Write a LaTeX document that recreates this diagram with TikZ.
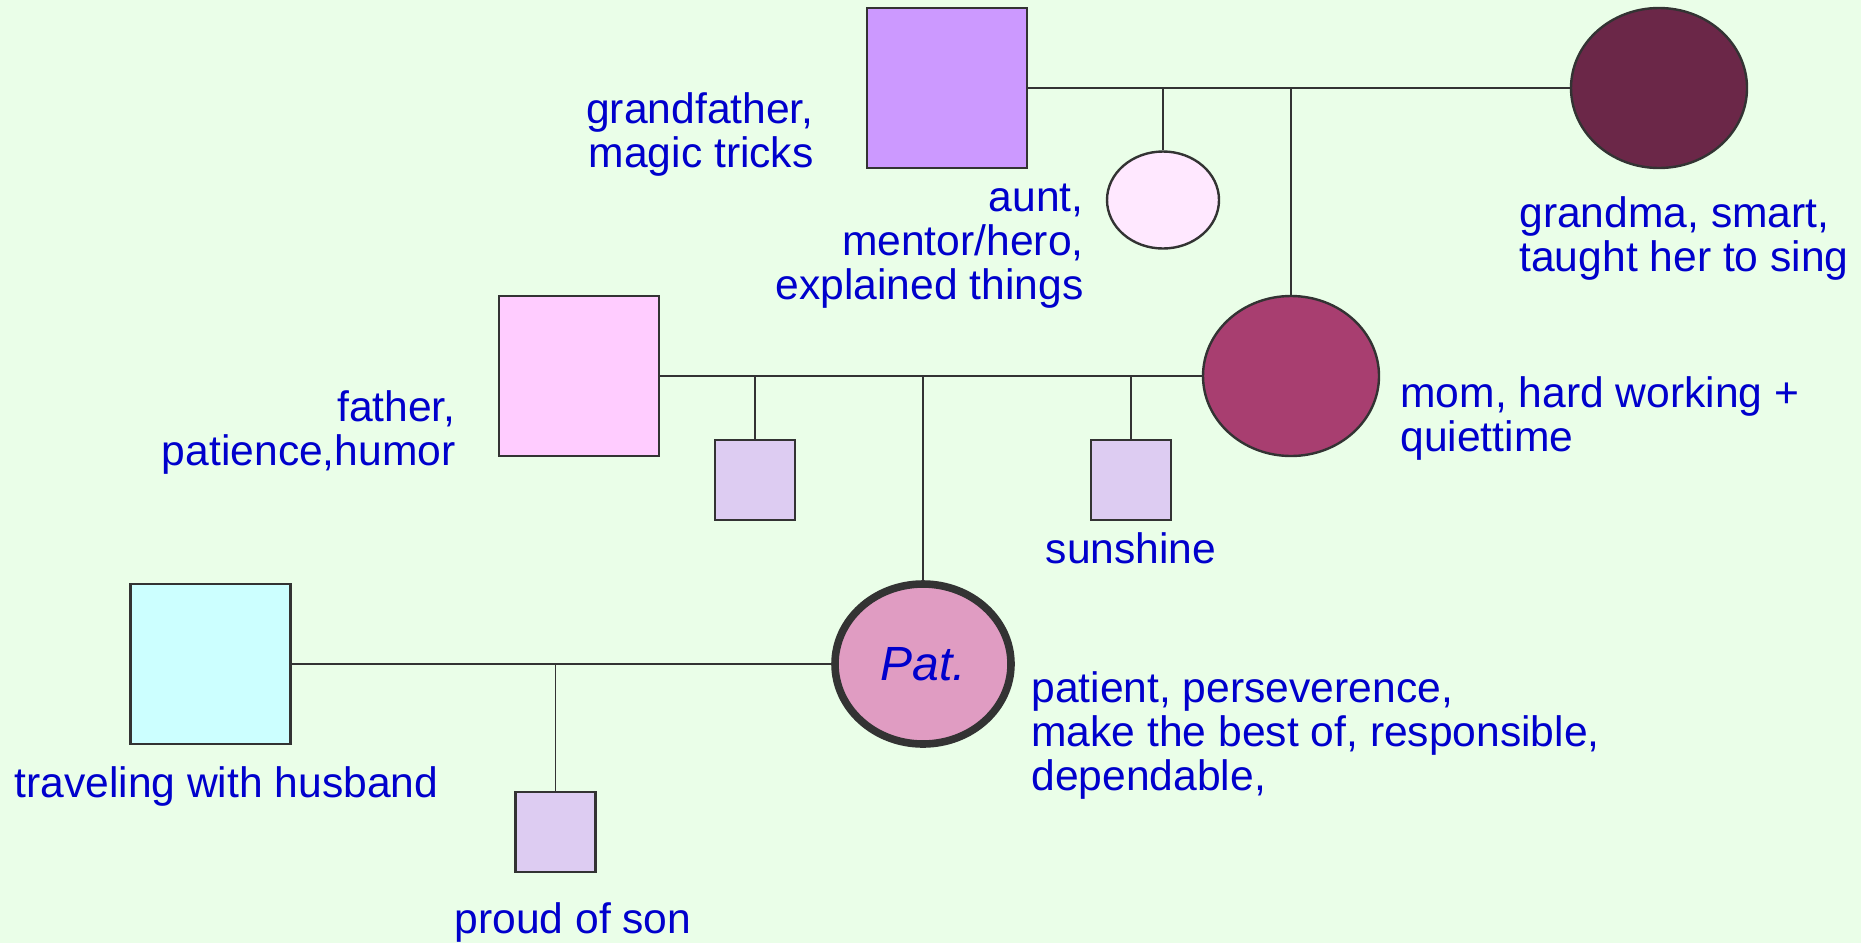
\documentclass[tikz,border=0pt]{standalone}
\usepackage{fontspec}
\setmainfont{Liberation Sans}
\usetikzlibrary{shapes.geometric}
\definecolor{bg}{HTML}{EAFEE8}
\definecolor{lc}{HTML}{333333}
\definecolor{txtblue}{HTML}{0000CC}
\definecolor{gfc}{HTML}{CC99FF}
\definecolor{gmc}{HTML}{6B2748}
\definecolor{auntc}{HTML}{FFE8FF}
\definecolor{fac}{HTML}{FFCCFF}
\definecolor{momc}{HTML}{A83E70}
\definecolor{kidc}{HTML}{DDCCF2}
\definecolor{huc}{HTML}{CCFFFF}
\definecolor{patc}{HTML}{E09CC2}
\tikzset{
  lab/.style={text=txtblue, font=\fontsize{21.3}{22}\selectfont, inner sep=0pt},
  male/.style={draw=lc, line width=1.2pt, rectangle, minimum size=80pt, inner sep=0pt},
  female/.style={draw=lc, ellipse, line width=1.2pt, minimum width=88pt, minimum height=80pt, inner sep=0pt},
  kid/.style={draw=lc, line width=1.2pt, rectangle, minimum size=40pt, inner sep=0pt, fill=kidc},
  marr/.style={draw=lc, line width=1.3pt},
  desc/.style={draw=lc, line width=0.9pt}
}
\begin{document}
\begin{tikzpicture}[x=0.5pt,y=-0.5pt]
\path[fill=bg] (0,0) rectangle (1861,943);
\useasboundingbox (0,0) rectangle (1861,943);
% people
\node[male, fill=gfc] (gf) at (947,88) {};
\node[female, fill=gmc] (gm) at (1659,88) {};
\node[female, fill=auntc, minimum width=56pt, minimum height=48.5pt] (aunt) at (1163,200) {};
\node[male, fill=fac] (fa) at (579,376) {};
\node[female, fill=momc] (mom) at (1291,376) {};
\node[kid] (sib) at (755,480) {};
\node[kid] (sun) at (1131,480) {};
\node[male, fill=huc] (hu) at (210.5,664) {};
\node[kid] (son) at (555.5,832) {};
\node[female, fill=patc, line width=3.8pt, text=txtblue, font=\itshape\fontsize{24}{26}\selectfont] (pat) at (923,664) {Pat.};
% connectors
\draw[marr] (gf.east) -- (gm.west);
\draw[desc] (gf.east -| aunt.north) -- (aunt.north);
\draw[desc] (gf.east -| mom.north) -- (mom.north);
\draw[marr] (fa.east) -- (mom.west);
\draw[desc] (fa.east -| sib.north) -- (sib.north);
\draw[desc] (fa.east -| pat.north) -- (pat.north);
\draw[desc] (fa.east -| sun.north) -- (sun.north);
\draw[marr] (hu.east) -- (pat.west);
\draw[desc] (hu.east -| son.north) -- (son.north);
% labels
\node[lab, anchor=east, align=right] (gft) at (814,134) {grandfather,\\magic tricks};
\node[lab, anchor=east, align=right] (auntt) at (1084,246) {aunt,\\mentor/hero,\\explained things};
\node[lab, anchor=west, align=left] (gmt) at (1519,238) {grandma, smart,\\taught her to sing};
\node[lab, anchor=east, align=right] (fat) at (456,432) {father,\\patience,humor};
\node[lab, anchor=west, align=left] (momt) at (1400,418) {mom, hard working +\\quiettime};
\node[lab] (sunt) at (1131,548) {sunshine};
\node[lab, anchor=west] (hut) at (14,786) {traveling with husband};
\node[lab] (sont) at (573,922) {proud of son};
\node[lab, anchor=west, align=left] (patt) at (1031,735) {patient, perseverence,\\make the best of, responsible,\\dependable,};
\end{tikzpicture}
\end{document}
